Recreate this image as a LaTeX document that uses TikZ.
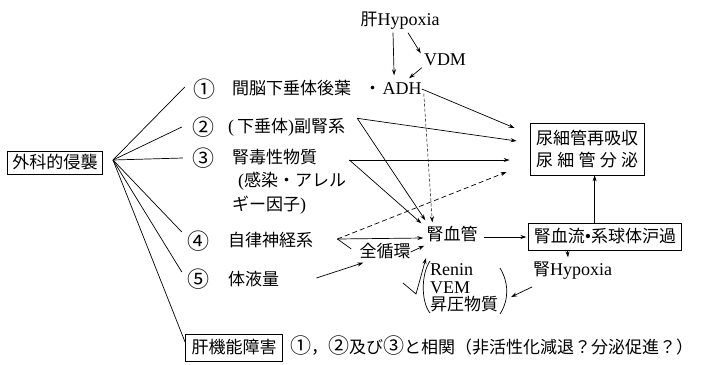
\documentclass[tikz,border=0pt]{standalone}
\usepackage{fontspec}
\setmainfont{Liberation Serif}
\newfontfamily\cjk{Noto Sans CJK JP}
\newfontfamily\latinf{Liberation Serif}
\newcommand\latx[1]{{\latinf\fontsize{18}{21}\selectfont #1}}
\newcommand\cnum[1]{{\fontsize{21}{22}\selectfont #1}}
\usetikzlibrary{arrows.meta,calc}
\begin{document}
\begin{tikzpicture}[x=1pt,y=-1pt,
  every node/.style={inner sep=0pt, text height=14pt, text depth=3pt, font=\cjk\fontsize{17}{22}\selectfont},
  lat/.style={font=\latinf\fontsize{18}{21}\selectfont},
  numn/.style={font=\cjk\fontsize{22}{22}\selectfont, text height=, text depth=},
  boxn/.style={draw, line width=0.8pt, inner xsep=5pt, inner ysep=5pt},
  arr/.style={-{Stealth[length=6pt,width=4pt]}, line width=0.7pt},
  ln/.style={line width=0.7pt},
  dsh/.style={dash pattern=on 5pt off 3pt},
  fdsh/.style={dash pattern=on 3pt off 2pt, line width=0.5pt}
]
\useasboundingbox (0,0) rectangle (706,364);
% left
\node[boxn, inner ysep=3pt] (inv) at (55,163) {外科的侵襲};
\coordinate (f) at (113,160);
\node[numn] (n1) at (204,89) {①};
\node[numn] (n2) at (203,127) {②};
\node[numn] (n3) at (203,158) {③};
\node[numn] (n4) at (198,241) {④};
\node[numn] (n5) at (198,279) {⑤};
\node[anchor=west] (t1) at (232,89) {間脳下垂体後葉\hspace{13pt}・};
\node[anchor=west, lat] (adh) at ($(t1.east)+(1,0)$) {ADH};
\node[anchor=west] (t2) at (228,127) {\latx{(}\,下垂体\latx{)}副腎系};
\node[anchor=west] (t3) at (232,158) {腎毒性物質};
\node[anchor=west] (t3b) at (238,181) {\latx{(}感染・アレル};
\node[anchor=west] (t3c) at (232,205) {ギー因子\latx{)}};
\node[anchor=west] (t4) at (228,241) {自律神経系};
\node[anchor=west] (t5) at (228,280) {体液量};
\node[boxn, inner xsep=6pt] (hk) at (234,348) {肝機能障害};
\node[anchor=west] (bt) at (290,348) {\cnum{①}，\cnum{②}及び\cnum{③}と相関（非活性化減退？分泌促進？）};
% top
\node (hyp) at (400,20) {肝\latx{Hypoxia}};
\node[lat] (vdm) at (445,60) {VDM};
% middle
\node (kek) at (452,235) {腎血管};
\node (zen) at (385,252) {全循環};
\node[boxn] (kr) at (605,237) {腎血流\latx{•}系球体沪過};
\node[boxn, align=center, inner xsep=6pt, inner ysep=7pt, text height=, text depth=] (bx) at (587,149) {尿細管再吸収\\\makebox[102pt][s]{尿\hfill 細\hfill 管\hfill 分\hfill 泌}};
\node[anchor=west] (kh) at (533,270) {腎\latx{Hypoxia}};
\node[anchor=west, align=left, text height=, text depth=, font=\latinf\fontsize{18}{17.5}\selectfont] (ren) at (430,288) {Renin\\VEM\\{\cjk\fontsize{17}{17.5}\selectfont 昇圧物質}};

% fan
\draw[ln] (f) -- ($(n1.west)+(-8,-2)$);
\draw[ln] (f) -- ($(n2.west)+(-10,0)$);
\draw[ln] (f) -- ($(n3.west)+(-9,0)$);
\draw[ln] (f) -- ($(n4.west)+(-5,-9)$);
\draw[ln] (f) -- ($(n5.west)+(-5,-7)$);
\draw[ln] (f) -- ($(hk.north west)+(0,8)$);

% top arrows
\draw[arr] ($(hyp.south)+(-7,4)$) -- ($(adh.north)+(-8,-5)$);
\draw[arr] ($(hyp.south)+(8,4)$) -- ($(vdm.north west)+(-3,2)$);
\draw[arr] ($(vdm.south west)+(-2,-1)$) -- ($(adh.north)+(7,-2)$);

% to tubule box
\coordinate (p2) at ($(t2.north east)+(12,0)$);
\coordinate (p3) at ($(t3.east)+(32,2)$);
\coordinate (p4) at ($(t4.east)+(24,-2)$);
\coordinate (p5) at ($(t5.east)+(37,-2)$);
\draw[arr] (adh.east) -- ($(bx.west)+(-15,-21)$);
\draw[arr] (p2) -- ($(bx.west)+(-13,-8)$);
\draw[arr] (p3) -- ($(bx.west)+(-20,11)$);
\draw[arr, dsh] (p4) -- ($(bx.west)+(-23,23)$);

% to renal vessel
\draw[arr] (p2) -- ($(kek.north west)+(-1,-6)$);
\draw[arr] (p3) -- ($(kek.north west)+(-5,-3)$);
\draw[arr, fdsh] ($(adh.south east)+(2,-4)$) -- ($(kek.north west)+(6,-4)$);
\draw[arr] (p4) -- ($(kek.west)+(-3,3)$);
\draw[ln] (p4) -- ($(zen.west)+(-8,-3)$);
\draw[arr] (p5) -- ($(zen.south west)+(4,2)$);
\draw[arr] (zen.east) -- ($(kek.south west)+(-2,2)$);

% right side
\draw[arr] ($(kek.east)+(6,2)$) -- ($(kr.west)+(-2,0)$);
\draw[arr] ($(kr.north west)+(66,0)$) -- ($(bx.south west)+(65,0)$);
\draw[arr] ($(kr.south west)+(39,0)$) -- ($(kh.north west)+(35,-4)$);

% renin group
\draw[ln] ($(ren.west)+(0,-27)$) .. controls ($(ren.west)+(-9,-14)$) and ($(ren.west)+(-9,14)$) .. ($(ren.west)+(0,25)$);
\draw[ln] ($(ren.west)+(70,-20)$) .. controls ($(ren.west)+(79,-5)$) and ($(ren.west)+(79,12)$) .. ($(ren.west)+(70,26)$);
\draw[arr] ($(ren.west)+(-27,-5)$) -- ($(ren.west)+(-14,6)$) -- ($(ren.west)+(-4,-30)$);
\draw[arr] ($(kh.west)+(-1,17)$) -- ($(ren.west)+(81,9)$);
\end{tikzpicture}
\end{document}
